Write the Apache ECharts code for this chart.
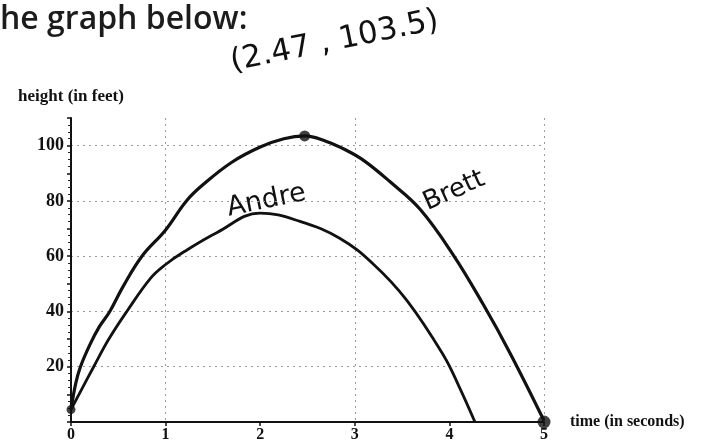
<!DOCTYPE html>
<html>
<head>
<meta charset="utf-8">
<script src="https://cdn.jsdelivr.net/npm/echarts@6/dist/echarts.min.js"></script>
<style>
  html, body { margin: 0; padding: 0; background: #fff; }
  #chart { width: 701px; height: 443px; }
</style>
</head>
<body>
<div id="chart"></div>
<script>
// Brett's path: time (s) and height (ft)
const brettTime   = [0, 0.05, 0.1, 0.2, 0.3, 0.41, 0.55, 0.75, 1.0, 1.22, 1.4, 1.7, 2.0, 2.25, 2.47, 2.7, 2.9, 3.1, 3.37, 3.69, 4.04, 4.36, 4.64, 5.0];
const brettHeight = [4.5, 14, 20, 28, 34.5, 40, 49, 60, 69.5, 80, 86, 94, 99.5, 102.5, 103.5, 101.5, 98.5, 94.5, 87, 77, 60.5, 42.4, 25, 0.5];

// Andre's path: time (s) and height (ft)
const andreTime   = [0, 0.1, 0.24, 0.4, 0.59, 0.84, 1.0, 1.19, 1.54, 2.0, 2.42, 2.84, 3.2, 3.55, 3.94, 4.1, 4.27];
const andreHeight = [4.5, 11, 20, 30, 40, 52, 57, 61.5, 68.5, 75.6, 72.6, 66.5, 57, 44, 24, 13, 0];

// Marked points: launch, Brett's peak, Brett's landing
const markTime   = [0, 2.47, 5];
const markHeight = [4.5, 103.5, 0];
const markSize   = [9, 11, 13];

// Axis ticks
const xTicks = [0, 1, 2, 3, 4, 5];
const yTicks = [20, 40, 60, 80, 100];

const pairs = (xs, ys) => xs.map((x, i) => [x, ys[i]]);

const serif = '"Liberation Serif", "DejaVu Serif", serif';
const hand = '"DejaVu Sans", "Noto Sans", sans-serif';

const chart = echarts.init(document.getElementById('chart'), null, { renderer: 'canvas' });

chart.setOption({
  backgroundColor: '#ffffff',
  animation: false,
  grid: { left: 71, right: 157, top: 118, bottom: 21, containLabel: false },
  xAxis: {
    type: 'value',
    min: 0,
    max: 5,
    interval: 1,
    name: 'time (in seconds)',
    nameLocation: 'end',
    nameGap: 26,
    nameTextStyle: { fontFamily: serif, fontWeight: 'bold', fontSize: 16, color: '#111', verticalAlign: 'middle' },
    axisLine: { show: true, lineStyle: { color: '#111', width: 2 } },
    axisTick: { show: true, length: 4, lineStyle: { color: '#111', width: 1.5 } },
    axisLabel: {
      fontFamily: serif, fontWeight: 'bold', fontSize: 16, color: '#111', margin: 5,
      formatter: v => (xTicks.indexOf(v) >= 0 ? String(v) : '')
    },
    splitLine: { show: true, lineStyle: { color: ['transparent', '#9a9a9a'], width: 1, type: [2, 4] } }
  },
  yAxis: {
    type: 'value',
    min: 0,
    max: 110,
    interval: 10,
    name: 'height (in feet)',
    nameLocation: 'end',
    nameGap: 13,
    nameTextStyle: { fontFamily: serif, fontWeight: 'bold', fontSize: 17, color: '#111' },
    axisLine: { show: true, lineStyle: { color: '#111', width: 2 } },
    axisTick: { show: true, length: 4, lineStyle: { color: '#111', width: 1.5 } },
    minorTick: { show: true, splitNumber: 4, length: 3, lineStyle: { color: '#222', width: 1 } },
    axisLabel: {
      fontFamily: serif, fontWeight: 'bold', fontSize: 18, color: '#111', margin: 7,
      formatter: v => (yTicks.indexOf(v) >= 0 ? String(v) : '')
    },
    splitLine: { show: true, lineStyle: { color: ['#9a9a9a', 'transparent'], width: 1, type: [2, 4] } }
  },
  series: [
    {
      name: 'Brett',
      type: 'line',
      data: pairs(brettTime, brettHeight),
      smooth: 0.4,
      showSymbol: false,
      lineStyle: { color: '#111', width: 3.2 },
      z: 3
    },
    {
      name: 'Andre',
      type: 'line',
      data: pairs(andreTime, andreHeight),
      smooth: 0.4,
      showSymbol: false,
      lineStyle: { color: '#111', width: 2.8 },
      z: 3
    },
    {
      name: 'points',
      type: 'scatter',
      data: markTime.map((t, i) => ({ value: [t, markHeight[i]], symbolSize: markSize[i] })),
      itemStyle: { color: '#111' },
      z: 4
    }
  ],
  graphic: [
    {
      type: 'text', left: 0, top: 4,
      style: { text: 'he graph below:', font: '600 32px "Open Sans", sans-serif', fill: '#1c1c1c' }
    },
    {
      type: 'text', x: 234, y: 78, rotation: 0.2,
      style: { text: '(2.47 , 103.5)', font: '31px ' + hand, fill: '#111', textVerticalAlign: 'bottom' }
    },
    {
      type: 'text', x: 230, y: 222, rotation: 0.2,
      style: { text: 'Andre', font: '27px ' + hand, fill: '#111', textVerticalAlign: 'bottom' }
    },
    {
      type: 'text', x: 430, y: 216, rotation: 0.42,
      style: { text: 'Brett', font: '26px ' + hand, fill: '#111', textVerticalAlign: 'bottom' }
    }
  ]
});
</script>
</body>
</html>
